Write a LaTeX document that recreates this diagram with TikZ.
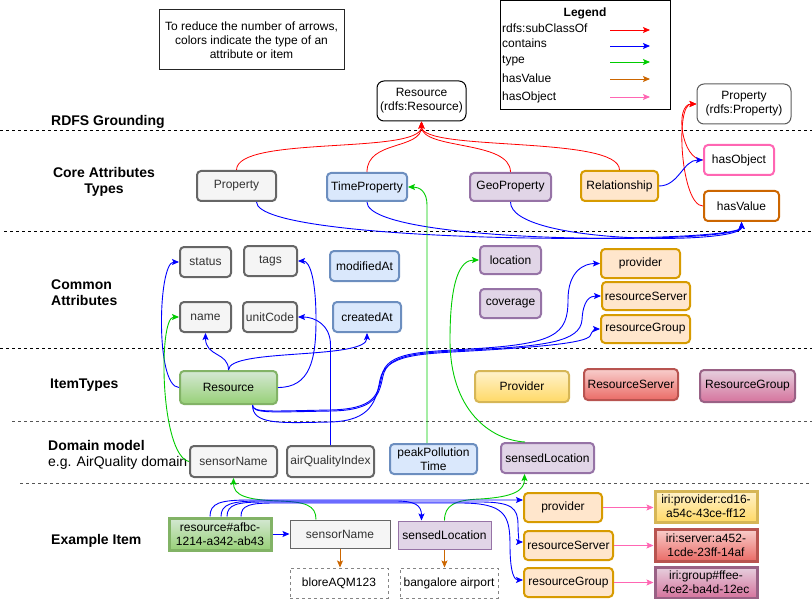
\documentclass[tikz,border=0pt]{standalone}
\usepackage{fontspec}
\setmainfont{Liberation Sans}
\usetikzlibrary{arrows.meta}
\definecolor{grayF}{HTML}{F5F5F5}
\definecolor{grayD}{HTML}{666666}
\definecolor{grayT}{HTML}{333333}
\definecolor{blueF}{HTML}{DAE8FC}
\definecolor{blueD}{HTML}{6C8EBF}
\definecolor{purpF}{HTML}{E1D5E7}
\definecolor{purpD}{HTML}{9673A6}
\definecolor{oranF}{HTML}{FFE6CC}
\definecolor{oranD}{HTML}{D79B00}
\definecolor{greenT}{HTML}{D5E8D4}
\definecolor{greenB}{HTML}{97D077}
\definecolor{greenD}{HTML}{82B366}
\definecolor{yellT}{HTML}{FFF2CC}
\definecolor{yellB}{HTML}{FFD966}
\definecolor{yellD}{HTML}{D6B656}
\definecolor{redT}{HTML}{F8CECC}
\definecolor{redB}{HTML}{EA6B66}
\definecolor{redD}{HTML}{B85450}
\definecolor{pinkT}{HTML}{E6D0DE}
\definecolor{pinkB}{HTML}{D5739D}
\definecolor{pinkD}{HTML}{996185}
\definecolor{hobjC}{HTML}{FF66B3}
\definecolor{hvalC}{HTML}{CC6600}
\definecolor{subcC}{HTML}{FF0000}
\definecolor{contC}{HTML}{0000FF}
\definecolor{typC}{HTML}{00CC00}
\definecolor{dashG}{HTML}{555555}
\begin{document}
\begin{tikzpicture}[x=1pt,y=-1pt,
  font=\fontsize{12}{14}\selectfont,
  base/.style={inner sep=0pt, align=center, line width=2pt, rounded corners=4pt},
  graybox/.style={base, fill=grayF, draw=grayD, text=grayT},
  bluebox/.style={base, fill=blueF, draw=blueD},
  purpbox/.style={base, fill=purpF, draw=purpD},
  oranbox/.style={base, fill=oranF, draw=oranD},
  greengrad/.style={base, top color=greenT, bottom color=greenB, draw=greenD},
  yellgrad/.style={base, top color=yellT, bottom color=yellB, draw=yellD},
  redgrad/.style={base, top color=redT, bottom color=redB, draw=redD},
  pinkgrad/.style={base, top color=pinkT, bottom color=pinkB, draw=pinkD},
  rdfsbox/.style={inner sep=0pt, align=center, line width=1pt, rounded corners=7pt, fill=white},
  plainbox/.style={inner sep=0pt, align=center, line width=1pt},
  dashbox/.style={plainbox, draw=grayD!80, dash pattern=on 3pt off 3pt},
  sect/.style={font=\fontsize{14}{16}\selectfont\bfseries, align=left, anchor=west, inner sep=0pt},
  sep/.style={line width=1pt, dash pattern=on 3pt off 3pt},
  tipstyle/.style={-{Stealth[length=7pt,width=6pt,inset=1.5pt]}},
  subc/.style={tipstyle, draw=subcC, line width=0.8pt},
  cont/.style={tipstyle, draw=contC, line width=0.9pt},
  typ/.style={tipstyle, draw=typC, line width=0.9pt},
  hval/.style={tipstyle, draw=hvalC, line width=0.9pt},
  hobj/.style={tipstyle, draw=hobjC, line width=0.9pt},
  legtxt/.style={anchor=west, inner sep=0pt, text height=9pt, text depth=3pt}
]
\useasboundingbox (0,0) rectangle (812,599);

% separators
\coordinate (s1a) at (0,131); \coordinate (s1b) at (812,131);
\coordinate (s2a) at (4,232); \coordinate (s2b) at (812,232);
\coordinate (s3a) at (0,348); \coordinate (s3b) at (812,348);
\coordinate (s4a) at (12,421); \coordinate (s4b) at (812,421);
\coordinate (s5a) at (20,483); \coordinate (s5b) at (812,483);
\draw[sep] (s1a) -- (s1b);
\draw[sep] (s2a) -- (s2b);
\draw[sep] (s3a) -- (s3b);
\draw[sep, draw=dashG] (s4a) -- (s4b);
\draw[sep, draw=dashG] (s5a) -- (s5b);

% section labels
\node[sect] (lblRDFS) at (51,122) {RDFS Grounding};
\node[sect, anchor=center, align=center] (lblCore) at (104,182) {Core Attributes\\Types};
\node[sect] (lblCommon) at (51,293) {Common\\Attributes};
\node[sect] (lblItem) at (50,385) {ItemTypes};
\node[sect] (lblDomain) at (48,455) {Domain model\\{\mdseries e.g. AirQuality domain}};
\node[sect] (lblExample) at (51,541) {Example Item};

% note and legend
\node[plainbox, draw=black!85, minimum width=185pt, minimum height=60pt] (note) at (251.5,40)
  {To reduce the number of arrows,\\colors indicate the type of an\\attribute or item};
\node[plainbox, draw=black, minimum width=170pt, minimum height=109pt] (legend) at (585,55.5) {};
\node[font=\fontsize{12}{14}\selectfont\bfseries, inner sep=0pt] (legTitle) at (585,13) {Legend};
\node[legtxt] (lg1) at (502,30) {rdfs:subClassOf};
\node[legtxt] (lg2) at (502,45) {contains};
\node[legtxt] (lg3) at (502,61) {type};
\node[legtxt] (lg4) at (502,80) {hasValue};
\node[legtxt] (lg5) at (502,98) {hasObject};
\coordinate (la1) at (610,30); \coordinate (lb1) at (650,30);
\coordinate (la2) at (610,46); \coordinate (lb2) at (650,46);
\coordinate (la3) at (610,62); \coordinate (lb3) at (650,62);
\coordinate (la4) at (610,79); \coordinate (lb4) at (650,79);
\coordinate (la5) at (610,97); \coordinate (lb5) at (650,97);
\draw[subc] (la1) -- (lb1);
\draw[cont] (la2) -- (lb2);
\draw[typ] (la3) -- (lb3);
\draw[hval] (la4) -- (lb4);
\draw[hobj] (la5) -- (lb5);

% RDFS grounding
\node[rdfsbox, draw=black, minimum width=89pt, minimum height=40pt] (rdfsRes) at (421.5,101) {Resource\\(rdfs:Resource)};
\node[rdfsbox, draw=grayD!90!black, minimum width=94pt, minimum height=40pt] (rdfsProp) at (744,104) {Property\\(rdfs:Property)};

% core attribute types
\node[graybox, minimum width=79pt, minimum height=30pt] (Property) at (236.5,186) {Property};
\node[bluebox, minimum width=80pt, minimum height=28pt] (TimeProperty) at (367,187) {TimeProperty};
\node[purpbox, minimum width=81pt, minimum height=28pt] (GeoProperty) at (510.5,187) {GeoProperty};
\node[oranbox, minimum width=77pt, minimum height=30pt] (Relationship) at (619.5,186) {Relationship};
\node[base, fill=white, draw=hobjC, minimum width=70pt, minimum height=30pt] (hasObject) at (739,160) {hasObject};
\node[base, fill=white, draw=hvalC, minimum width=75pt, minimum height=30pt] (hasValue) at (741.5,206) {hasValue};

% common attributes
\node[graybox, minimum width=51pt, minimum height=30pt] (status) at (205.5,262) {status};
\node[graybox, minimum width=53pt, minimum height=30pt] (tags) at (270.5,261) {tags};
\node[bluebox, minimum width=69pt, minimum height=30pt] (modifiedAt) at (364.5,266) {modifiedAt};
\node[graybox, minimum width=51pt, minimum height=30pt] (name) at (205.5,317) {name};
\node[graybox, minimum width=54pt, minimum height=30pt] (unitCode) at (270,317) {unitCode};
\node[bluebox, minimum width=68pt, minimum height=30pt] (createdAt) at (367,317) {createdAt};
\node[purpbox, minimum width=61pt, minimum height=28pt] (location) at (510.5,260) {location};
\node[purpbox, minimum width=61pt, minimum height=29pt] (coverage) at (510.5,303.5) {coverage};
\node[oranbox, minimum width=79pt, minimum height=29pt] (providerA) at (640.5,263.5) {provider};
\node[oranbox, minimum width=88pt, minimum height=28pt] (resourceServerA) at (646,296) {resourceServer};
\node[oranbox, minimum width=89pt, minimum height=28pt] (resourceGroupA) at (645.5,329) {resourceGroup};

% item types
\node[greengrad, minimum width=97pt, minimum height=33pt] (Resource) at (228.5,387.5) {Resource};
\node[yellgrad, minimum width=94pt, minimum height=31pt] (Provider) at (522,386.5) {Provider};
\node[redgrad, minimum width=94pt, minimum height=31pt] (ResourceServer) at (631,384.5) {ResourceServer};
\node[pinkgrad, minimum width=95pt, minimum height=32pt] (ResourceGroup) at (747.5,386) {ResourceGroup};

% domain model
\node[graybox, minimum width=87pt, minimum height=31pt] (sensorNameD) at (233.5,461.5) {sensorName};
\node[graybox, minimum width=87pt, minimum height=31pt] (airQualityIndex) at (330.5,461.5) {airQualityIndex};
\node[bluebox, minimum width=87pt, minimum height=30pt] (peakPollution) at (433.5,459) {peakPollution\\Time};
\node[purpbox, minimum width=93pt, minimum height=30pt] (sensedLocationD) at (547.5,458) {sensedLocation};

% example item
\node[plainbox, line width=3pt, top color=greenT, bottom color=greenB, draw=greenD, minimum width=102pt, minimum height=32pt] (resEx) at (220,534) {resource\#afbc-\\1214-a342-ab43};
\node[plainbox, fill=grayF, draw=grayD, text=grayT, minimum width=100pt, minimum height=28pt] (sensorNameE) at (340,534) {sensorName};
\node[plainbox, fill=purpF, draw=purpD, minimum width=93pt, minimum height=28pt] (sensedLocationE) at (444.5,535) {sensedLocation};
\node[dashbox, minimum width=98pt, minimum height=30pt] (blore) at (339,583) {bloreAQM123};
\node[dashbox, minimum width=98pt, minimum height=30pt] (bangalore) at (449,583) {bangalore airport};
\node[oranbox, minimum width=78pt, minimum height=29pt] (providerE) at (563,507.5) {provider};
\node[oranbox, minimum width=89pt, minimum height=29pt] (resourceServerE) at (568.5,545.5) {resourceServer};
\node[oranbox, minimum width=89pt, minimum height=29pt] (resourceGroupE) at (568.5,582.5) {resourceGroup};
\node[plainbox, line width=3pt, top color=yellT, bottom color=yellB, draw=yellD, minimum width=102pt, minimum height=31pt] (iriProv) at (706,506.5) {iri:provider:cd16-\\a54c-43ce-ff12};
\node[plainbox, line width=3pt, top color=redT, bottom color=redB, draw=redD, minimum width=102pt, minimum height=32pt] (iriServ) at (706,545) {iri:server:a452-\\1cde-23ff-14af};
\node[plainbox, line width=3pt, top color=pinkT, bottom color=pinkB, draw=pinkD, minimum width=102pt, minimum height=31pt] (iriGroup) at (706,582.5) {iri:group\#ffee-\\4ce2-ba4d-12ec};

% ---------- connectors ----------
% subClassOf
\draw[subc] (Property.north) .. controls (236.5,135) and (421.5,155) .. (rdfsRes.south);
\draw[subc] (TimeProperty.north) .. controls (367,140) and (421.5,150) .. (rdfsRes.south);
\draw[subc] (GeoProperty.north) .. controls (510.5,140) and (421.5,150) .. (rdfsRes.south);
\draw[subc] (Relationship.north) .. controls (619.5,135) and (421.5,152) .. (rdfsRes.south);
\draw[subc] (hasObject.west) to[out=180,in=180] (rdfsProp.west);
\draw[subc] (hasValue.west) to[out=180,in=180,looseness=0.55] (rdfsProp.west);

% contains (core)
\draw[cont] (Relationship.east) to[out=0,in=180] (hasObject.west);
\draw[cont] ([xshift=20pt]Property.south) .. controls (257,245) and (742,245) .. (hasValue.south);
\draw[cont] (TimeProperty.south) .. controls (367,245) and (742,245) .. (hasValue.south);
\draw[cont] (GeoProperty.south) .. controls (510.5,245) and (742,245) .. (hasValue.south);

% contains (Resource item type)
\draw[cont] (Resource.west) .. controls (155,387) and (158,262) .. (status.west);
\draw[cont] (Resource.north) .. controls (228.5,352) and (205.5,357) .. (name.south);
\draw[cont] (Resource.north) .. controls (228.5,348) and (367,360) .. (createdAt.south);
\draw[cont] (Resource.east) .. controls (310,387.5) and (316,360) .. (316,320) .. controls (316,280) and (310,261) .. (tags.east);
\draw[cont] ([xshift=24pt]Resource.south) .. controls (252.5,413) and (270,411) .. (330,410)
  .. controls (375,409) and (378,395) .. (382,375) .. controls (387,352) and (420,352) .. (470,349)
  .. controls (555,344) and (568,335) .. (568,300) .. controls (568,270) and (585,263.5) .. (providerA.west);
\draw[cont] ([xshift=24pt]Resource.south) .. controls (252.5,414) and (272,412) .. (332,411)
  .. controls (376,410) and (379,395) .. (383,376) .. controls (388,353) and (420,353) .. (470,350)
  .. controls (545,346) and (580,342) .. (582,320) .. controls (583,300) and (590,296) .. (resourceServerA.west);
\draw[cont] ([xshift=24pt]Resource.south) .. controls (252.5,425) and (280,423) .. (330,422)
  .. controls (372,421) and (376,400) .. (380,380) .. controls (385,354) and (420,354) .. (470,351)
  .. controls (540,347) and (585,343) .. (590,336) .. controls (592,331) and (595,329) .. (resourceGroupA.west);
\draw[cont] (airQualityIndex.north) -- (330.5,345) .. controls (330.5,325) and (315,317) .. (unitCode.east);

% type
\draw[typ] (sensorNameD.west) .. controls (160,455) and (158,317) .. (name.west);
\draw[typ] ([xshift=-6.5pt]peakPollution.north) -- (427,205) .. controls (427,192) and (420,187) .. (TimeProperty.east);
\draw[typ] ([xshift=-22.5pt]sensedLocationD.north) .. controls (490,440) and (450,410) .. (450,340)
  .. controls (450,280) and (460,260) .. (location.west);
\draw[typ] ([xshift=-24pt]sensorNameE.north) .. controls (316,505) and (305,502) .. (280,501)
  .. controls (245,500) and (233.5,495) .. (sensorNameD.south);
\draw[typ] (sensedLocationE.north) .. controls (444.5,505) and (455,500) .. (480,499)
  .. controls (515,497) and (524.5,490) .. ([xshift=-23pt]sensedLocationD.south);

% contains (example)
\draw[cont] (resEx.east) -- (sensorNameE.west);
\draw[cont] ([xshift=-10pt]resEx.north) .. controls (210,503) and (220,500) .. (250,500) -- ([yshift=7.5pt]providerE.west);
\draw[cont] ([xshift=1pt]resEx.north) .. controls (221,504) and (232,501) .. (260,501) -- (395,501)
  .. controls (415,501) and (421.5,505) .. ([xshift=-23pt]sensedLocationE.north);
\draw[cont] ([xshift=7pt]resEx.north) .. controls (227,504) and (238,502) .. (265,502) -- (480,502)
  .. controls (512,502) and (518,508) .. (518,525) .. controls (518,538) and (520,542) .. ([yshift=3.5pt]resourceServerE.west);
\draw[cont] ([xshift=21pt]resEx.north) .. controls (241,505) and (250,503) .. (275,503) -- (460,503)
  .. controls (505,503) and (510,515) .. (510,545) .. controls (510,575) and (515,580) .. ([yshift=2.5pt]resourceGroupE.west);

% hasValue
\draw[hval] (sensorNameE.south) -- (sensorNameE.south |- blore.north);
\draw[hval] (sensedLocationE.south) -- (sensedLocationE.south |- bangalore.north);

% hasObject
\draw[hobj] (providerE.east) -- (providerE.east -| iriProv.west);
\draw[hobj] (resourceServerE.east) -- (resourceServerE.east -| iriServ.west);
\draw[hobj] (resourceGroupE.east) -- (resourceGroupE.east -| iriGroup.west);
\end{tikzpicture}
\end{document}
